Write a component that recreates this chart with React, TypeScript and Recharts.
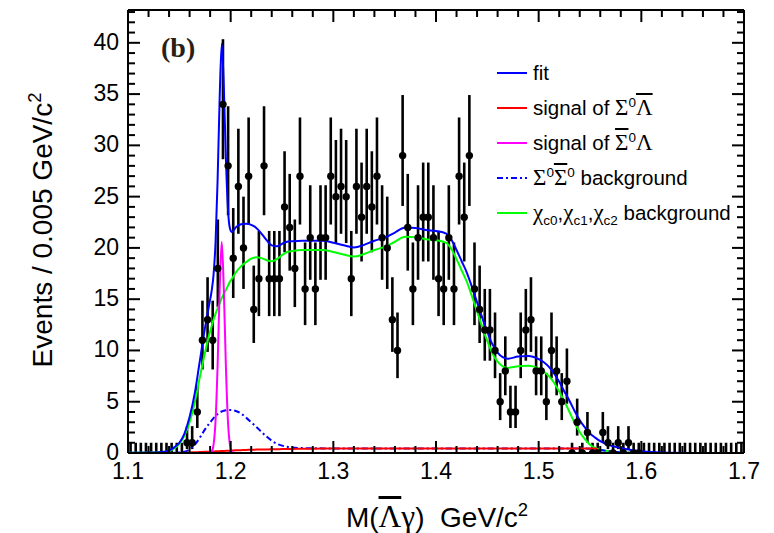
import type { ReactNode } from "react";
import { ComposedChart, ErrorBar, Line, Scatter, XAxis, YAxis } from "recharts";

const BIN_START = 1.1;
const BIN_WIDTH = 0.005;

// events per 0.005 GeV/c^2 bin, 1.100 .. 1.700
const COUNTS = [
  0, 0, 0, 0, 0, 0, 0, 0, 0, 0,
  0, 1, 1, 4, 11, 13, 11, 18, 34, 28,
  19, 26, 20, 27, 14, 17, 28, 17, 17, 17,
  24, 22, 18, 27, 16, 21, 16, 21, 21, 27,
  25, 26, 25, 17, 26, 23, 26, 24, 27, 21,
  20, 13, 10, 29, 22, 16, 21, 23, 23, 21,
  17, 16, 21, 16, 27, 23, 29, 16, 14, 12,
  12, 10, 5, 8, 4, 4, 10, 12, 13, 8,
  8, 5, 10, 8, 5, 7, 0, 3, 0, 2,
  0, 0, 2, 1, 0, 1, 0, 1, 0, 0,
  0, 0, 0, 0, 0, 0, 0, 0, 0, 0,
  0, 0, 0, 0, 0, 0, 0, 0, 0, 0,
];

// empty bins inside this window keep their marker
const MARKED_EMPTY = [1.53, 1.6];

// mass points where the fit components are sampled
const CURVE_M = [
  1.1, 1.12, 1.13, 1.14, 1.145, 1.15, 1.155, 1.16, 1.165, 1.17, 1.175,
  1.1793, 1.1813, 1.1833, 1.1853, 1.1873, 1.1893, 1.1913, 1.1933, 1.1953, 1.1973, 1.1993, 1.2013,
  1.205, 1.21, 1.215, 1.22, 1.225, 1.23, 1.235, 1.24, 1.245, 1.25, 1.255, 1.26,
  1.27, 1.28, 1.29, 1.3, 1.31, 1.32, 1.33, 1.34, 1.35, 1.36, 1.37, 1.38, 1.39, 1.4, 1.41,
  1.415, 1.42, 1.425, 1.43, 1.435, 1.44, 1.445, 1.45, 1.455, 1.46, 1.465, 1.47,
  1.48, 1.49, 1.5, 1.505, 1.51, 1.515, 1.52, 1.525, 1.53, 1.535, 1.54, 1.545, 1.55, 1.555, 1.56, 1.565, 1.57,
  1.58, 1.59, 1.6, 1.61, 1.62, 1.65, 1.7,
];

const FIT = [
  0.02, 0.04, 0.07, 0.25, 0.55, 1.0, 1.9, 3.5, 5.8, 9.0, 12.2,
  14.6, 15.7, 17.35, 20.6, 26.7, 34.7, 39.9, 35.8, 28.9, 23.9, 21.9, 21.55,
  22.0, 22.3, 22.35, 22.25, 21.95, 21.4, 20.75, 20.25, 20.15, 20.4, 20.6, 20.65,
  20.7, 20.7, 20.7, 20.5, 20.25, 20.05, 20.3, 20.7, 21.0, 21.5, 22.0, 21.95, 21.75, 21.65, 21.4,
  20.8, 19.8, 18.7, 17.6, 16.2, 14.7, 13.2, 11.8, 10.6, 9.8, 9.35, 9.2,
  9.4, 9.45, 9.15, 8.85, 8.4, 7.75, 6.95, 6.0, 5.1, 4.1, 3.2, 2.5, 1.9, 1.5, 1.15, 0.9, 0.72,
  0.48, 0.3, 0.17, 0.09, 0.05, 0.01, 0,
];

const BKG_CHICJ = [
  0.02, 0.04, 0.07, 0.2, 0.45, 0.9, 1.7, 3.0, 4.9, 7.4, 9.8,
  11.6, 12.3, 13.0, 13.6, 14.1, 14.6, 15.1, 15.5, 15.9, 16.3, 16.7, 17.0,
  17.6, 18.2, 18.6, 18.95, 19.1, 19.0, 18.8, 18.7, 18.9, 19.3, 19.6, 19.7,
  19.8, 19.8, 19.8, 19.6, 19.35, 19.15, 19.4, 19.8, 20.1, 20.6, 21.1, 21.05, 20.85, 20.75, 20.5,
  19.9, 18.9, 17.8, 16.7, 15.3, 13.8, 12.3, 10.9, 9.7, 8.9, 8.45, 8.3,
  8.45, 8.5, 8.25, 7.95, 7.5, 6.85, 6.0, 5.05, 4.0, 2.95, 2.05, 1.35, 0.8, 0.5, 0.32, 0.22, 0.15,
  0.07, 0.04, 0.02, 0.01, 0, 0, 0,
];

const BKG_SIGSIG = [
  null, null, null, 0, 0.02, 0.05, 0.12, 0.35, 0.8, 1.5, 2.3,
  2.9, 3.15, 3.4, 3.6, 3.8, 3.95, 4.05, 4.12, 4.17, 4.2, 4.2, 4.2,
  4.1, 3.85, 3.45, 3.0, 2.55, 2.05, 1.6, 1.2, 0.9, 0.72, 0.6, 0.53,
  0.48, 0.46, 0.45, 0.45, 0.45, 0.45, 0.45, 0.45, 0.45, 0.45, 0.45, 0.45, 0.45, 0.45, 0.45,
  0.45, 0.45, 0.45, 0.45, 0.45, 0.45, 0.45, 0.45, 0.45, 0.45, 0.45, 0.45,
  0.45, 0.45, 0.45, 0.45, 0.45, 0.45, 0.45, 0.45, 0.45, 0.45, 0.45, 0.44, 0.42, 0.38, 0.3, 0.22, 0.15,
  0.06, 0.02, 0, null, null, null, null,
];

const SIG_SIG0_LAMBAR = [
  null, null, null, null, null, null, 0, 0.05, 0.07, 0.09, 0.11,
  0.13, 0.14, 0.15, 0.16, 0.17, 0.18, 0.19, 0.2, 0.21, 0.22, 0.23, 0.24,
  0.26, 0.28, 0.3, 0.31, 0.33, 0.34, 0.35, 0.36, 0.37, 0.38, 0.39, 0.4,
  0.41, 0.42, 0.43, 0.44, 0.44, 0.45, 0.45, 0.45, 0.45, 0.45, 0.45, 0.45, 0.45, 0.45, 0.45,
  0.45, 0.45, 0.45, 0.45, 0.45, 0.45, 0.45, 0.45, 0.45, 0.45, 0.45, 0.45,
  0.45, 0.45, 0.45, 0.45, 0.45, 0.45, 0.45, 0.45, 0.45, 0.45, 0.45, 0.45, 0.45, 0.44, 0, null, null,
  null, null, null, null, null, null, null,
];

// narrow peak, sampled on its own grid
const SIG_SIG0BAR_LAM_M = [
  1.1773, 1.1793, 1.1813, 1.1833, 1.1853, 1.1873, 1.1893, 1.1913,
  1.1933, 1.1953, 1.1973, 1.1993, 1.2013, 1.2033, 1.2053,
];
const SIG_SIG0BAR_LAM = [0, 0.02, 0.1, 0.8, 3.2, 8.6, 16.0, 20.6, 16.0, 8.6, 3.2, 0.8, 0.1, 0.02, 0];

const X_TICKS = Array.from({ length: 31 }, (_, i) => +(1.1 + i * 0.02).toFixed(2));
const Y_TICKS = Array.from({ length: 44 }, (_, i) => i);

const BLUE = "#0000ff";
const RED = "#ff0000";
const MAGENTA = "#ff00ff";
const GREEN = "#00ff00";
const DASHDOT = "6 3 2 3";

const SANS = "'Liberation Sans', Arial, Helvetica, sans-serif";
const SERIF = "'Liberation Serif', 'Times New Roman', serif";

const toPoints = (ms: number[], vs: (number | null)[]) => ms.map((m, i) => ({ m, v: vs[i] }));

const dataPoints = COUNTS.map((n, i) => {
  const s = Math.sqrt(n + 0.25);
  return { m: +(BIN_START + BIN_WIDTH * (i + 0.5)).toFixed(4), v: n, err: [s - 0.5, s + 0.5] };
});

const isMajorX = (v: number) => Math.abs(v * 10 - Math.round(v * 10)) < 1e-6;

function BottomTick({ x, y, payload }: any) {
  const major = isMajorX(payload.value);
  return (
    <g>
      <line x1={x} x2={x} y1={y} y2={y - (major ? 12 : 7)} stroke="#000" strokeWidth={2} />
      {major && (
        <text x={x} y={y + 26} textAnchor="middle" fontSize={23} fill="#000">
          {payload.value.toFixed(1)}
        </text>
      )}
    </g>
  );
}

function TopTick({ x, y, payload }: any) {
  const major = isMajorX(payload.value);
  return <line x1={x} x2={x} y1={y} y2={y + (major ? 12 : 7)} stroke="#000" strokeWidth={2} />;
}

function LeftTick({ x, y, payload }: any) {
  const major = payload.value % 5 === 0;
  return (
    <g>
      <line x1={x} x2={x + (major ? 12 : 7)} y1={y} y2={y} stroke="#000" strokeWidth={2} />
      {major && (
        <text x={x - 9} y={y + 7} textAnchor="end" fontSize={23} fill="#000">
          {payload.value}
        </text>
      )}
    </g>
  );
}

function RightTick({ x, y, payload }: any) {
  const major = payload.value % 5 === 0;
  return <line x1={x} x2={x - (major ? 12 : 7)} y1={y} y2={y} stroke="#000" strokeWidth={2} />;
}

function DataMarker(props: any) {
  const { cx, cy, payload } = props;
  if (payload.v === 0 && !(payload.m > MARKED_EMPTY[0] && payload.m < MARKED_EMPTY[1])) return <g />;
  return <circle cx={cx} cy={cy} r={3.7} fill="#000" />;
}

const Sup = ({ children }: { children: ReactNode }) => (
  <span style={{ fontSize: "0.66em", position: "relative", top: "-0.6em" }}>{children}</span>
);
const Sub = ({ children }: { children: ReactNode }) => (
  <span style={{ fontSize: "0.66em", position: "relative", top: "0.35em" }}>{children}</span>
);
const Gr = ({ children, bar }: { children: ReactNode; bar?: boolean }) => (
  <span style={{ fontFamily: SERIF, fontSize: "1.12em", textDecoration: bar ? "overline" : undefined }}>
    {children}
  </span>
);

const LEGEND = [
  { color: BLUE, dash: undefined, label: <>fit</> },
  {
    color: RED,
    dash: undefined,
    label: (
      <>
        signal of <Gr>Σ</Gr>
        <Sup>0</Sup>
        <Gr bar>Λ</Gr>
      </>
    ),
  },
  {
    color: MAGENTA,
    dash: undefined,
    label: (
      <>
        signal of <Gr bar>Σ</Gr>
        <Sup>0</Sup>
        <Gr>Λ</Gr>
      </>
    ),
  },
  {
    color: BLUE,
    dash: DASHDOT,
    label: (
      <>
        <Gr>Σ</Gr>
        <Sup>0</Sup>
        <Gr bar>Σ</Gr>
        <Sup>0</Sup> background
      </>
    ),
  },
  {
    color: GREEN,
    dash: undefined,
    label: (
      <>
        <Gr>χ</Gr>
        <Sub>c0</Sub>,<Gr>χ</Gr>
        <Sub>c1</Sub>,<Gr>χ</Gr>
        <Sub>c2</Sub> background
      </>
    ),
  },
];
const LEGEND_TOP = 73;
const LEGEND_STEP = 35;

export default function App() {
  return (
    <div
      style={{
        position: "absolute",
        left: 0,
        top: 0,
        width: 774,
        height: 533,
        background: "#fff",
        fontFamily: SANS,
        color: "#000",
      }}
    >
      <ComposedChart width={774} height={533} margin={{ top: 0, right: 0, bottom: 50, left: 88 }}>
        <XAxis
          xAxisId="b"
          type="number"
          dataKey="m"
          domain={[1.1, 1.7]}
          ticks={X_TICKS}
          interval={0}
          height={30}
          tickSize={0}
          tickMargin={0}
          tickLine={false}
          tick={<BottomTick />}
          axisLine={{ stroke: "#000", strokeWidth: 2 }}
          allowDataOverflow
        />
        <XAxis
          xAxisId="t"
          orientation="top"
          type="number"
          dataKey="m"
          domain={[1.1, 1.7]}
          ticks={X_TICKS}
          interval={0}
          height={10}
          tickSize={0}
          tickMargin={0}
          tickLine={false}
          tick={<TopTick />}
          axisLine={{ stroke: "#000", strokeWidth: 2 }}
          allowDataOverflow
        />
        <YAxis
          yAxisId="l"
          type="number"
          dataKey="v"
          domain={[0, 43.2]}
          ticks={Y_TICKS}
          interval={0}
          width={40}
          tickSize={0}
          tickMargin={0}
          tickLine={false}
          tick={<LeftTick />}
          axisLine={{ stroke: "#000", strokeWidth: 2 }}
          allowDataOverflow
        />
        <YAxis
          yAxisId="r"
          orientation="right"
          type="number"
          dataKey="v"
          domain={[0, 43.2]}
          ticks={Y_TICKS}
          interval={0}
          width={30}
          tickSize={0}
          tickMargin={0}
          tickLine={false}
          tick={<RightTick />}
          axisLine={{ stroke: "#000", strokeWidth: 2 }}
          allowDataOverflow
        />

        <Scatter
          xAxisId="b"
          yAxisId="l"
          data={dataPoints}
          dataKey="v"
          shape={DataMarker}
          isAnimationActive={false}
        >
          <ErrorBar dataKey="err" direction="y" width={0} stroke="#000" strokeWidth={2.6} />
        </Scatter>

        <Line
          xAxisId="b"
          yAxisId="l"
          data={toPoints(CURVE_M, BKG_CHICJ)}
          dataKey="v"
          type="monotone"
          stroke={GREEN}
          strokeWidth={2}
          dot={false}
          activeDot={false}
          isAnimationActive={false}
        />
        <Line
          xAxisId="b"
          yAxisId="l"
          data={toPoints(CURVE_M, BKG_SIGSIG)}
          dataKey="v"
          type="monotone"
          stroke={BLUE}
          strokeWidth={2}
          strokeDasharray={DASHDOT}
          dot={false}
          activeDot={false}
          isAnimationActive={false}
        />
        <Line
          xAxisId="b"
          yAxisId="l"
          data={toPoints(CURVE_M, SIG_SIG0_LAMBAR)}
          dataKey="v"
          type="monotone"
          stroke={RED}
          strokeWidth={2}
          dot={false}
          activeDot={false}
          isAnimationActive={false}
        />
        <Line
          xAxisId="b"
          yAxisId="l"
          data={toPoints(SIG_SIG0BAR_LAM_M, SIG_SIG0BAR_LAM)}
          dataKey="v"
          type="monotone"
          stroke={MAGENTA}
          strokeWidth={2}
          dot={false}
          activeDot={false}
          isAnimationActive={false}
        />
        <Line
          xAxisId="b"
          yAxisId="l"
          data={toPoints(CURVE_M, FIT)}
          dataKey="v"
          type="monotone"
          stroke={BLUE}
          strokeWidth={2}
          dot={false}
          activeDot={false}
          isAnimationActive={false}
        />
      </ComposedChart>

      {/* panel tag */}
      <div
        style={{
          position: "absolute",
          left: 161,
          top: 34,
          fontFamily: SERIF,
          fontWeight: "bold",
          fontSize: 28,
          lineHeight: 1,
          color: "#2a1f14",
        }}
      >
        (b)
      </div>

      {/* legend */}
      <svg style={{ position: "absolute", left: 0, top: 0, pointerEvents: "none" }} width={774} height={533}>
        {LEGEND.map((row, i) => (
          <line
            key={i}
            x1={497}
            x2={527}
            y1={LEGEND_TOP + LEGEND_STEP * i}
            y2={LEGEND_TOP + LEGEND_STEP * i}
            stroke={row.color}
            strokeWidth={2}
            strokeDasharray={row.dash}
          />
        ))}
      </svg>
      {LEGEND.map((row, i) => (
        <div
          key={i}
          style={{
            position: "absolute",
            left: 533,
            top: LEGEND_TOP + LEGEND_STEP * i - 13,
            height: 26,
            lineHeight: "26px",
            fontSize: 20.5,
            whiteSpace: "nowrap",
          }}
        >
          {row.label}
        </div>
      ))}

      {/* axis titles */}
      <div
        style={{
          position: "absolute",
          left: 437,
          top: 501,
          transform: "translateX(-50%)",
          fontSize: 28,
          lineHeight: 1,
          whiteSpace: "nowrap",
        }}
      >
        M(<Gr bar>Λ</Gr>
        <Gr>γ</Gr>)&nbsp;&nbsp;GeV/c<Sup>2</Sup>
      </div>
      <div
        style={{
          position: "absolute",
          left: 43,
          top: 230,
          transform: "translate(-50%, -50%) rotate(-90deg)",
          fontSize: 28,
          lineHeight: 1,
          whiteSpace: "nowrap",
        }}
      >
        Events / 0.005 GeV/c<Sup>2</Sup>
      </div>
    </div>
  );
}
